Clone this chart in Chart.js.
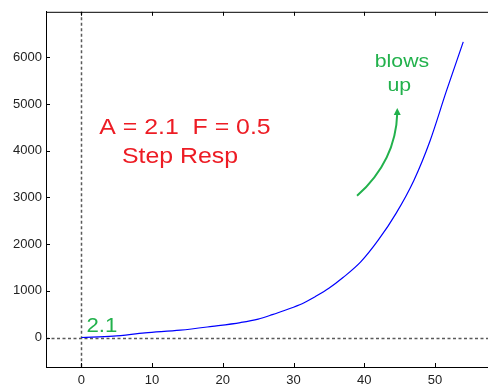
<!DOCTYPE html>
<html>
<head>
<meta charset="utf-8">
<script src="https://cdn.jsdelivr.net/npm/chart.js@4"></script>
<style>
  html, body { margin: 0; padding: 0; background: #fff; }
  canvas { display: block; }
</style>
</head>
<body>
<canvas id="c" width="488" height="386"></canvas>
<script>
// Step response samples (n, y[n])
const stepN    = [0, 4.5, 9, 14, 18.5, 22.5, 25, 27, 28.5, 30, 31.5, 33, 35, 37, 39.5, 42, 44.5, 47, 49.3, 51.6, 54];
const stepResp = [2.1, 30, 100, 158, 240, 322, 395, 490, 570, 650, 745, 870, 1055, 1285, 1620, 2090, 2660, 3360, 4210, 5270, 6330];

// Axis ticks
const xTicks = [0, 10, 20, 30, 40, 50];
const yTicks = [0, 1000, 2000, 3000, 4000, 5000, 6000];

// Annotation texts
const titleLine1 = 'A = 2.1  F = 0.5';
const titleLine2 = 'Step Resp';
const noteLine1 = 'blows';
const noteLine2 = 'up';

const RED = '#ed1c24';
const GREEN = '#22b14c';
const FONT = '"Liberation Sans", Arial, sans-serif';

// Text drawn slightly widened horizontally
function wideText(ctx, text, x, y, size, color, stretch) {
  ctx.save();
  ctx.font = size + 'px ' + FONT;
  ctx.fillStyle = color;
  ctx.textAlign = 'center';
  ctx.textBaseline = 'alphabetic';
  ctx.translate(x, y);
  ctx.scale(stretch, 1);
  ctx.fillText(text, 0, 0);
  ctx.restore();
}

const decor = {
  id: 'decor',
  beforeDatasetsDraw(chart) {
    const { ctx, chartArea: a, scales: { x, y } } = chart;
    ctx.save();
    // zero reference lines
    ctx.strokeStyle = '#5a5a5a';
    ctx.lineWidth = 1.5;
    ctx.setLineDash([3, 2.5]);
    const x0 = Math.round(x.getPixelForValue(0)) + 0.5;
    const y0 = Math.round(y.getPixelForValue(0)) + 0.5;
    ctx.beginPath();
    ctx.moveTo(x0, a.top); ctx.lineTo(x0, a.bottom);
    ctx.moveTo(a.left, y0); ctx.lineTo(a.right, y0);
    ctx.stroke();
    ctx.restore();
  },
  afterDatasetsDraw(chart) {
    const { ctx, chartArea: a, scales: { x, y } } = chart;
    ctx.save();
    // frame: top border, inward tick marks
    ctx.strokeStyle = '#000';
    ctx.lineWidth = 1;
    ctx.beginPath();
    ctx.moveTo(a.left, a.top + 0.5); ctx.lineTo(a.right, a.top + 0.5);
    xTicks.forEach(v => {
      const px = Math.round(x.getPixelForValue(v)) + 0.5;
      ctx.moveTo(px, a.bottom); ctx.lineTo(px, a.bottom - 4);
      ctx.moveTo(px, a.top); ctx.lineTo(px, a.top + 4);
    });
    yTicks.forEach(v => {
      const py = Math.round(y.getPixelForValue(v)) + 0.5;
      ctx.moveTo(a.left, py); ctx.lineTo(a.left + 4, py);
    });
    ctx.stroke();

    // title annotation
    wideText(ctx, titleLine1, x.getPixelForValue(14.65), y.getPixelForValue(4350), 22, RED, 1.13);
    wideText(ctx, titleLine2, x.getPixelForValue(13.94), y.getPixelForValue(3738), 22, RED, 1.13);

    // "blows up" note with curved arrow
    wideText(ctx, noteLine1, x.getPixelForValue(45.33), y.getPixelForValue(5791), 19, GREEN, 1.12);
    wideText(ctx, noteLine2, x.getPixelForValue(44.95), y.getPixelForValue(5273), 19, GREEN, 1.12);

    const sx = x.getPixelForValue(38.98), sy = y.getPixelForValue(3034);
    const cx = x.getPixelForValue(44.48), cy = y.getPixelForValue(3780);
    const tx = x.getPixelForValue(44.67), ty = y.getPixelForValue(4917);
    ctx.strokeStyle = GREEN;
    ctx.fillStyle = GREEN;
    ctx.lineWidth = 2;
    ctx.beginPath();
    ctx.moveTo(sx, sy);
    ctx.quadraticCurveTo(cx, cy, tx, ty + 5);
    ctx.stroke();
    ctx.beginPath();
    ctx.moveTo(tx, ty);
    ctx.lineTo(tx - 3.5, ty + 7);
    ctx.lineTo(tx + 3.5, ty + 7);
    ctx.closePath();
    ctx.fill();

    // value label at the first sample
    const p0x = x.getPixelForValue(stepN[0]);
    const p0y = y.getPixelForValue(stepResp[0]);
    wideText(ctx, String(stepResp[0]), p0x + 20.5, p0y - 5.5, 20, GREEN, 1.11);
    ctx.restore();
  }
};

new Chart(document.getElementById('c'), {
  type: 'line',
  data: {
    datasets: [{
      data: stepN.map((n, i) => ({ x: n, y: stepResp[i] })),
      borderColor: '#0000ff',
      borderWidth: 1.2,
      pointRadius: 0,
      fill: false,
      cubicInterpolationMode: 'monotone'
    }]
  },
  plugins: [decor],
  options: {
    responsive: false,
    animation: false,
    layout: { padding: { top: 10, right: 0, bottom: 0, left: 0 } },
    plugins: { legend: { display: false }, tooltip: { enabled: false } },
    scales: {
      x: {
        type: 'linear',
        min: -5,
        max: 57.5,
        afterBuildTicks: s => { s.ticks = xTicks.map(v => ({ value: v })); },
        afterFit: s => { s.height = 19; },
        grid: { display: false, drawTicks: false },
        border: { display: true, color: '#000', width: 1 },
        ticks: { padding: 6, color: '#222', font: { family: FONT, size: 13 }, maxRotation: 0,
                 callback: v => String(v) }
      },
      y: {
        type: 'linear',
        min: -630,
        max: 6975,
        afterBuildTicks: s => { s.ticks = yTicks.map(v => ({ value: v })); },
        afterFit: s => { s.width = 46; },
        grid: { display: false, drawTicks: false },
        border: { display: true, color: '#000', width: 1 },
        ticks: { padding: 4, color: '#222', font: { family: FONT, size: 13 },
                 callback: v => String(v) }
      }
    }
  }
});
</script>
</body>
</html>
